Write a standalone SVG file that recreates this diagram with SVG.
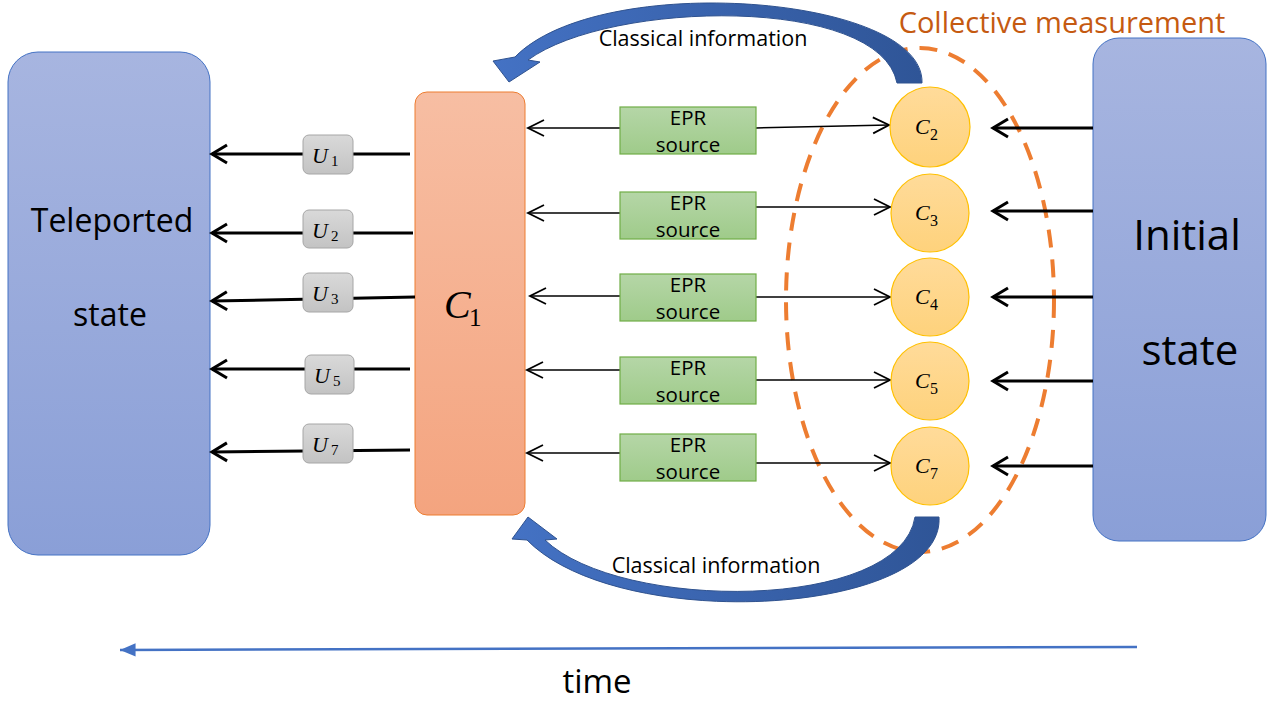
<svg xmlns="http://www.w3.org/2000/svg" width="1278" height="703" viewBox="0 0 1278 703">
<style>
.t{font-family:"Open Sans","Liberation Sans",sans-serif;fill:#000}
.m{font-family:"Liberation Serif","DejaVu Serif",serif;fill:#000}
.thick{stroke:#000;stroke-width:3;fill:none;marker-end:url(#ah)}
.thin{stroke:#000;stroke-width:1.5;fill:none;marker-end:url(#ahs)}
.ub{fill:url(#gU);stroke:#A6A6A6;stroke-width:1}
.epr{fill:url(#gE);stroke:#70AD47;stroke-width:1.2}
.cir{fill:url(#gC);stroke:#FFC000;stroke-width:1.2}
</style>
<defs>
<linearGradient id="gB" x1="0" y1="0" x2="0" y2="1"><stop offset="0" stop-color="#A7B5E0"/><stop offset="1" stop-color="#8A9FD7"/></linearGradient>
<linearGradient id="gO" x1="0" y1="0" x2="0" y2="1"><stop offset="0" stop-color="#F7BEA3"/><stop offset="1" stop-color="#F4A47F"/></linearGradient>
<linearGradient id="gU" x1="0" y1="0" x2="0" y2="1"><stop offset="0" stop-color="#D9D9D9"/><stop offset="1" stop-color="#C3C3C3"/></linearGradient>
<linearGradient id="gE" x1="0" y1="0" x2="0" y2="1"><stop offset="0" stop-color="#B5D6A7"/><stop offset="1" stop-color="#9FCB8A"/></linearGradient>
<linearGradient id="gC" x1="0" y1="0" x2="0" y2="1"><stop offset="0" stop-color="#FFDB9A"/><stop offset="1" stop-color="#FED27C"/></linearGradient>
<linearGradient id="gA" x1="0" y1="0" x2="1" y2="0"><stop offset="0" stop-color="#4472C4"/><stop offset="1" stop-color="#2F5597"/></linearGradient>
<marker id="ah" markerUnits="userSpaceOnUse" markerWidth="20" markerHeight="20" viewBox="-18 -10 20 20" refX="0" refY="0" orient="auto" overflow="visible">
<path d="M-15,-9 L0,0 L-15,9" fill="none" stroke="#000" stroke-width="3"/>
</marker>
<marker id="ahs" markerUnits="userSpaceOnUse" markerWidth="20" markerHeight="20" viewBox="-18 -10 20 20" refX="0" refY="0" orient="auto" overflow="visible">
<path d="M-16,-8 L0,0 L-16,8" fill="none" stroke="#000" stroke-width="1.8"/>
</marker>
<marker id="ta" markerUnits="userSpaceOnUse" markerWidth="20" markerHeight="20" viewBox="-16 -8 18 16" refX="0" refY="0" orient="auto" overflow="visible">
<path d="M0,0 L-14,-6 L-14,6 Z" fill="#4472C4"/>
</marker>
</defs>

<g id="teleported">
<rect x="8" y="52" width="202" height="503" rx="30" fill="url(#gB)" stroke="#4472C4" stroke-width="1"/>
<text class="t" x="112" y="232" font-size="32" text-anchor="middle">Teleported</text>
<text class="t" x="110" y="326" font-size="32" text-anchor="middle">state</text>
</g>

<g id="initial">
<rect x="1093" y="38" width="173" height="503" rx="26" fill="url(#gB)" stroke="#4472C4" stroke-width="1"/>
<text class="t" x="1187" y="250" font-size="42" text-anchor="middle">Initial</text>
<text class="t" x="1190" y="365" font-size="42" text-anchor="middle">state</text>
</g>

<g id="c1">
<rect x="415" y="92" width="110" height="423" rx="12" fill="url(#gO)" stroke="#ED7D31" stroke-width="1"/>
<text class="m" x="444" y="318" font-size="40" font-style="italic">C</text>
<text class="m" x="469" y="326" font-size="25">1</text>
</g>

<g id="ellipse">
<ellipse cx="920" cy="300" rx="134" ry="252" fill="none" stroke="#ED7D31" stroke-width="4" stroke-dasharray="18 12"/>
<text x="1062" y="33" font-size="29" text-anchor="middle" fill="#C55A11" font-family="'Open Sans','Liberation Sans',sans-serif">Collective measurement</text>
</g>

<g id="connectors">
<line class="thick" x1="410" y1="154" x2="212" y2="154"/>
<line class="thick" x1="413" y1="233" x2="212" y2="233"/>
<line class="thick" x1="415" y1="297" x2="212" y2="301"/>
<line class="thick" x1="410" y1="369" x2="212" y2="369"/>
<line class="thick" x1="410" y1="450" x2="212" y2="452"/>

<line class="thin" x1="620" y1="128" x2="528" y2="128"/>
<line class="thin" x1="620" y1="213" x2="528" y2="213"/>
<line class="thin" x1="620" y1="296" x2="530" y2="296"/>
<line class="thin" x1="620" y1="370" x2="527" y2="370"/>
<line class="thin" x1="620" y1="453" x2="527" y2="453"/>

<line class="thin" x1="756" y1="128" x2="889" y2="125"/>
<line class="thin" x1="756" y1="207" x2="890" y2="207"/>
<line class="thin" x1="756" y1="297" x2="890" y2="297"/>
<line class="thin" x1="756" y1="380" x2="890" y2="380"/>
<line class="thin" x1="756" y1="463" x2="890" y2="463"/>

<line class="thick" x1="1093" y1="128" x2="993" y2="128"/>
<line class="thick" x1="1093" y1="211" x2="993" y2="211"/>
<line class="thick" x1="1093" y1="297" x2="993" y2="297"/>
<line class="thick" x1="1093" y1="381" x2="993" y2="381"/>
<line class="thick" x1="1093" y1="466" x2="993" y2="466"/>

<path d="M922,83 C925,-5 600,-30 515,57 L493,61 L509,82 L540,62 L528,60 C610,0 880,-5 897,83 Z" fill="url(#gA)" stroke="#2F528F" stroke-width="1"/>
<path d="M939,517 C945,615 620,635 527,540 L512,539 L528,517 L557,539 L545,540 C620,612 900,612 915,517 Z" fill="url(#gA)" stroke="#2F528F" stroke-width="1"/>

<line x1="1137" y1="647" x2="120" y2="650" stroke="#4472C4" stroke-width="2.5" marker-end="url(#ta)"/>
</g>

<text class="t" x="703" y="46" font-size="21.5" text-anchor="middle">Classical information</text>
<text class="t" x="716" y="573" font-size="21.5" text-anchor="middle">Classical information</text>
<text class="t" x="597" y="693" font-size="33" text-anchor="middle">time</text>

<g id="u1"><rect class="ub" x="303" y="135" width="50" height="39" rx="6"/><text class="m" x="312" y="163" font-size="22" font-style="italic">U</text><text class="m" x="331" y="166" font-size="15">1</text></g>
<g id="u2"><rect class="ub" x="303" y="210" width="50" height="38" rx="6"/><text class="m" x="312" y="238" font-size="22" font-style="italic">U</text><text class="m" x="331" y="241" font-size="15">2</text></g>
<g id="u3"><rect class="ub" x="303" y="273" width="50" height="39" rx="6"/><text class="m" x="312" y="301" font-size="22" font-style="italic">U</text><text class="m" x="331" y="304" font-size="15">3</text></g>
<g id="u5"><rect class="ub" x="305" y="355" width="49" height="39" rx="6"/><text class="m" x="314" y="383" font-size="22" font-style="italic">U</text><text class="m" x="333" y="386" font-size="15">5</text></g>
<g id="u7"><rect class="ub" x="303" y="424" width="50" height="39" rx="6"/><text class="m" x="312" y="452" font-size="22" font-style="italic">U</text><text class="m" x="331" y="455" font-size="15">7</text></g>

<g id="epr1"><rect class="epr" x="620" y="107" width="136" height="47"/><text class="t" x="688" y="125" font-size="20.5" text-anchor="middle">EPR</text><text class="t" x="688" y="152" font-size="20.5" text-anchor="middle">source</text></g>
<g id="epr2"><rect class="epr" x="620" y="192" width="136" height="47"/><text class="t" x="688" y="210" font-size="20.5" text-anchor="middle">EPR</text><text class="t" x="688" y="237" font-size="20.5" text-anchor="middle">source</text></g>
<g id="epr3"><rect class="epr" x="620" y="274" width="136" height="47"/><text class="t" x="688" y="292" font-size="20.5" text-anchor="middle">EPR</text><text class="t" x="688" y="319" font-size="20.5" text-anchor="middle">source</text></g>
<g id="epr4"><rect class="epr" x="620" y="357" width="136" height="47"/><text class="t" x="688" y="375" font-size="20.5" text-anchor="middle">EPR</text><text class="t" x="688" y="402" font-size="20.5" text-anchor="middle">source</text></g>
<g id="epr5"><rect class="epr" x="620" y="434" width="136" height="47"/><text class="t" x="688" y="452" font-size="20.5" text-anchor="middle">EPR</text><text class="t" x="688" y="479" font-size="20.5" text-anchor="middle">source</text></g>

<g id="c2"><circle class="cir" cx="930" cy="127" r="40"/><text class="m" x="915" y="134" font-size="22" font-style="italic">C</text><text class="m" x="930" y="140" font-size="16">2</text></g>
<g id="c3"><circle class="cir" cx="930" cy="213" r="39"/><text class="m" x="915" y="220" font-size="22" font-style="italic">C</text><text class="m" x="930" y="226" font-size="16">3</text></g>
<g id="c4"><circle class="cir" cx="930" cy="297" r="39"/><text class="m" x="915" y="304" font-size="22" font-style="italic">C</text><text class="m" x="930" y="310" font-size="16">4</text></g>
<g id="c5"><circle class="cir" cx="930" cy="381" r="39"/><text class="m" x="915" y="388" font-size="22" font-style="italic">C</text><text class="m" x="930" y="394" font-size="16">5</text></g>
<g id="c7"><circle class="cir" cx="930" cy="466" r="39"/><text class="m" x="915" y="473" font-size="22" font-style="italic">C</text><text class="m" x="930" y="479" font-size="16">7</text></g>
</svg>
